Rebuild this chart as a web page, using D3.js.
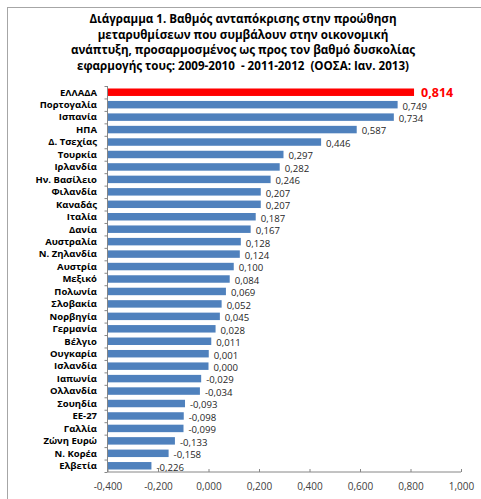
<!DOCTYPE html>
<html>
<head>
<meta charset="utf-8">
<script src="https://cdn.jsdelivr.net/npm/d3@7/dist/d3.min.js"></script>
<style>
  html, body { margin: 0; padding: 0; background: #fff; }
  svg { display: block; font-family: "Open Sans", "Noto Sans", sans-serif; }
</style>
</head>
<body>
<svg id="chart" width="481" height="499"></svg>
<script>
// Countries, top to bottom
const countries = [
  "ΕΛΛΑΔΑ", "Πορτογαλία", "Ισπανία", "ΗΠΑ", "Δ. Τσεχίας", "Τουρκία", "Ιρλανδία",
  "Ην. Βασίλειο", "Φιλανδία", "Καναδάς", "Ιταλία", "Δανία", "Αυστραλία", "Ν. Ζηλανδία",
  "Αυστρία", "Μεξικό", "Πολωνία", "Σλοβακία", "Νορβηγία", "Γερμανία", "Βέλγιο",
  "Ουγκαρία", "Ισλανδία", "Ιαπωνία", "Ολλανδία", "Σουηδία", "ΕΕ-27", "Γαλλία",
  "Ζώνη Ευρώ", "Ν. Κορέα", "Ελβετία"
];
// Responsiveness score, adjusted for implementation difficulty
const scores = [
  0.814, 0.749, 0.734, 0.587, 0.446, 0.297, 0.282,
  0.246, 0.207, 0.207, 0.187, 0.167, 0.128, 0.124,
  0.100, 0.084, 0.069, 0.052, 0.045, 0.028, 0.011,
  0.001, 0.000, -0.029, -0.034, -0.093, -0.098, -0.099,
  -0.133, -0.158, -0.226
];
const highlighted = ["ΕΛΛΑΔΑ"];
const xTicks = [-0.4, -0.2, 0, 0.2, 0.4, 0.6, 0.8, 1.0];
const titleLines = [
  "Διάγραμμα 1. Βαθμός ανταπόκρισης στην προώθηση",
  "μεταρυθμίσεων που συμβάλουν στην οικονομική",
  "ανάπτυξη, προσαρμοσμένος ως προς τον βαθμό δυσκολίας",
  "εφαρμογής τους: 2009-2010  - 2011-2012  (ΟΟΣΑ: Ιαν. 2013)"
];

const data = countries.map((c, i) => ({ name: c, value: scores[i] }));
const svg = d3.select("#chart");
const fmt = v => d3.format(".3f")(v).replace("−", "-").replace(".", ",");
const isHi = d => highlighted.includes(d.name);

// chart frame
svg.append("rect")
  .attr("x", 7.5).attr("y", 7.5).attr("width", 500).attr("height", 520)
  .attr("fill", "none").attr("stroke", "#a6a6a6").attr("stroke-width", 1);

// title
const title = svg.append("text")
  .attr("text-anchor", "middle")
  .attr("font-size", 11.6).attr("font-weight", "bold").attr("fill", "#000")
  .attr("xml:space", "preserve");
titleLines.forEach((t, i) => {
  title.append("tspan").attr("x", 243).attr("y", 23 + i * 15.7).text(t);
});

const margin = { left: 107.5, right: 461, top: 86, bottom: 472 };
const x = d3.scaleLinear().domain([-0.4, 1.0]).range([margin.left, margin.right]);
const y = d3.scaleBand().domain(countries).range([margin.top, margin.bottom]).paddingInner(0.4).paddingOuter(0.2);

// bars grow from the axis minimum
const base = x.domain()[0];
svg.append("g").selectAll("rect").data(data).join("rect")
  .attr("x", x(base))
  .attr("y", d => y(d.name))
  .attr("width", d => x(d.value) - x(base))
  .attr("height", y.bandwidth())
  .attr("fill", d => isHi(d) ? "#ff0000" : "#4f81bd");

// value labels
svg.append("g").selectAll("text").data(data).join("text")
  .attr("x", d => x(d.value) + (isHi(d) ? 7 : 5))
  .attr("y", d => y(d.name) + y.bandwidth() / 2 + (isHi(d) ? 0 : 1.5))
  .attr("dy", "0.35em")
  .attr("font-size", d => isHi(d) ? 12.5 : 9.6)
  .attr("font-weight", d => isHi(d) ? "bold" : "normal")
  .attr("fill", d => isHi(d) ? "#ff0000" : "#262626")
  .text(d => fmt(d.value));

// category axis
const yAxis = d3.axisLeft(d3.scalePoint().domain(d3.range(countries.length + 1)).range([margin.top, margin.bottom]))
  .tickSize(3).tickFormat("");
const ya = svg.append("g").attr("transform", `translate(${margin.left},0)`).call(yAxis);
ya.select(".domain").attr("d", `M0,${margin.top}V${margin.bottom}`).attr("stroke", "#868686");
ya.selectAll(".tick line").attr("stroke", "#868686");

svg.append("g").selectAll("text").data(data).join("text")
  .attr("x", 97)
  .attr("y", d => y(d.name) + y.bandwidth() / 2)
  .attr("dy", "0.35em")
  .attr("text-anchor", "end")
  .attr("font-size", 9.5).attr("font-weight", "bold").attr("fill", "#000")
  .text(d => d.name);

// value axis
const xAxis = d3.axisBottom(x).tickValues(xTicks).tickSize(-3).tickPadding(11).tickFormat(fmt);
const xa = svg.append("g").attr("transform", `translate(0,${margin.bottom})`).call(xAxis);
xa.select(".domain").attr("d", `M${margin.left},0H${margin.right}`).attr("stroke", "#868686");
xa.selectAll(".tick line").attr("stroke", "#868686");
xa.selectAll(".tick text").attr("font-size", 10).attr("fill", "#404040")
  .attr("font-family", "'Open Sans', sans-serif");
</script>
</body>
</html>
